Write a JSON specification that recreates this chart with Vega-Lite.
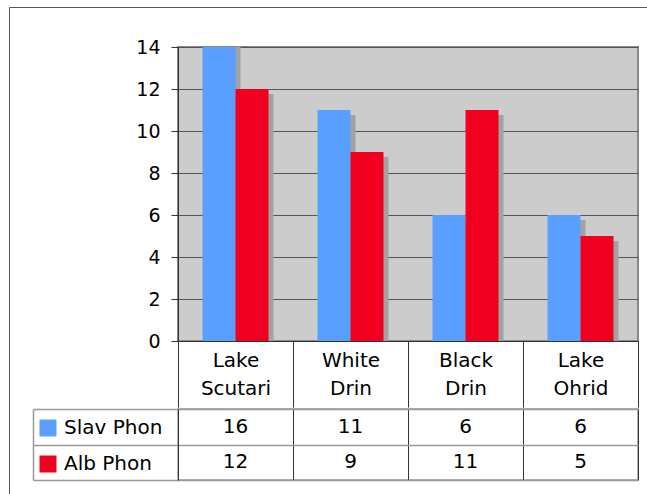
{
  "$schema": "https://vega.github.io/schema/vega-lite/v6.json",
  "background": "white",
  "padding": {"left": 8, "top": 4, "right": 0, "bottom": 0},
  "spacing": -4,
  "config": {
    "font": "DejaVu Sans",
    "axis": {"labelFont": "DejaVu Sans", "labelColor": "black", "labelFontSize": 19, "title": null}
  },
  "datasets": {
    "rows": [
      {"category": "Lake Scutari", "series": "Slav Phon", "value": 16},
      {"category": "Lake Scutari", "series": "Alb Phon", "value": 12},
      {"category": "White Drin", "series": "Slav Phon", "value": 11},
      {"category": "White Drin", "series": "Alb Phon", "value": 9},
      {"category": "Black Drin", "series": "Slav Phon", "value": 6},
      {"category": "Black Drin", "series": "Alb Phon", "value": 11},
      {"category": "Lake Ohrid", "series": "Slav Phon", "value": 6},
      {"category": "Lake Ohrid", "series": "Alb Phon", "value": 5}
    ]
  },
  "resolve": {"legend": {"color": "independent", "fill": "shared"}},
  "vconcat": [
    {
      "width": 460,
      "height": 294,
      "view": {"fill": "#cccccc", "stroke": "#888888", "strokeWidth": 2},
      "data": {"name": "rows"},
      "encoding": {
        "x": {
          "field": "category", "type": "nominal",
          "sort": ["Lake Scutari", "White Drin", "Black Drin", "Lake Ohrid"],
          "scale": {"paddingInner": 0, "paddingOuter": 0},
          "axis": {
            "orient": "bottom", "tickBand": "extent", "tickSize": 66, "tickColor": "#333333",
            "domainColor": "#333333", "labelAngle": 0, "labelExpr": "split(datum.label, ' ')",
            "labelFontSize": 20, "labelBaseline": "top", "labelLineHeight": 28, "labelPadding": -57, "grid": false
          }
        },
        "y": {
          "field": "value", "type": "quantitative",
          "scale": {"domain": [0, 14], "nice": false},
          "axis": {
            "values": [0, 2, 4, 6, 8, 10, 12, 14], "grid": true, "gridColor": "#555555",
            "domainColor": "#333333", "tickColor": "#333333", "tickSize": 7, "labelPadding": 11,
            "minExtent": 145
          }
        }
      },
      "layer": [
        {
          "mark": {"type": "bar", "color": "#a2a2a2", "yOffset": 5, "clip": true},
          "encoding": {
            "xOffset": {
              "field": "series", "type": "nominal", "sort": ["Slav Phon", "Alb Phon"],
              "scale": {"paddingInner": 0, "paddingOuter": 0.742, "align": 0.602}
            }
          }
        },
        {
          "mark": {"type": "bar", "clip": true},
          "encoding": {
            "xOffset": {
              "field": "series", "type": "nominal", "sort": ["Slav Phon", "Alb Phon"],
              "scale": {"paddingInner": 0, "paddingOuter": 0.742}
            },
            "color": {
              "field": "series", "type": "nominal",
              "scale": {"domain": ["Slav Phon", "Alb Phon"], "range": ["#599fff", "#f0001e"]},
              "legend": null
            }
          }
        },
        {
          "mark": {"type": "square", "size": 0},
          "encoding": {
            "fill": {
              "datum": 1, "type": "quantitative",
              "scale": {"domain": [0, 1], "range": ["#ffffff", "#ffffff"]},
              "legend": {
                "orient": "none", "legendX": -169, "legendY": -40, "direction": "horizontal",
                "gradientLength": 660, "gradientThickness": 510, "labels": false, "values": [0],
                "labelExpr": "''", "title": null,
                "gradientOpacity": 0, "gradientStrokeWidth": 0, "strokeColor": "#555555", "padding": 0
              }
            }
          }
        }
      ],
      "resolve": {"scale": {"xOffset": "independent"}}
    },
    {
      "width": 460,
      "height": 71,
      "view": {"stroke": "#999999", "strokeWidth": 1.5},
      "data": {"name": "rows"},
      "layer": [
        {
          "mark": {"type": "text", "fontSize": 20, "font": "DejaVu Sans", "color": "black"},
          "encoding": {
            "x": {
              "field": "category", "type": "nominal",
              "sort": ["Lake Scutari", "White Drin", "Black Drin", "Lake Ohrid"],
              "scale": {"paddingInner": 0, "paddingOuter": 0},
              "axis": {"orient": "bottom", "domain": false, "ticks": false, "labels": false, "grid": true, "tickBand": "extent", "gridColor": "#333333"}
            },
            "y": {
              "field": "series", "type": "nominal", "sort": ["Slav Phon", "Alb Phon"],
              "scale": {"paddingInner": 0, "paddingOuter": 0},
              "axis": {"orient": "left", "tickBand": "extent", "tickSize": 145, "tickColor": "#999999", "tickWidth": 1.5, "labels": false, "domainColor": "#333333", "grid": true, "gridColor": "#999999", "gridWidth": 1.5}
            },
            "text": {"field": "value", "type": "quantitative"}
          }
        },
        {
          "mark": {"type": "square", "size": 0},
          "encoding": {
            "y": {
              "field": "series", "type": "nominal", "sort": ["Slav Phon", "Alb Phon"],
              "scale": {"paddingInner": 0, "paddingOuter": 0},
              "axis": {"orient": "left", "offset": 145, "ticks": false, "labels": false, "grid": false, "domainColor": "#999999", "domainWidth": 1.5}
            },
            "color": {
              "field": "series", "type": "nominal",
              "scale": {"domain": ["Slav Phon", "Alb Phon"], "range": ["#599fff", "#f0001e"]},
              "legend": {
                "orient": "none", "legendX": -140, "legendY": 9, "title": null,
                "symbolType": "square", "symbolSize": 289, "symbolOpacity": 1, "symbolStrokeWidth": 0,
                "labelFontSize": 20, "labelFont": "DejaVu Sans", "labelColor": "black",
                "labelOffset": 6, "rowPadding": 16, "padding": 0
              }
            }
          }
        }
      ],
      "resolve": {"scale": {"y": "independent"}, "axis": {"y": "independent"}}
    }
  ]
}
